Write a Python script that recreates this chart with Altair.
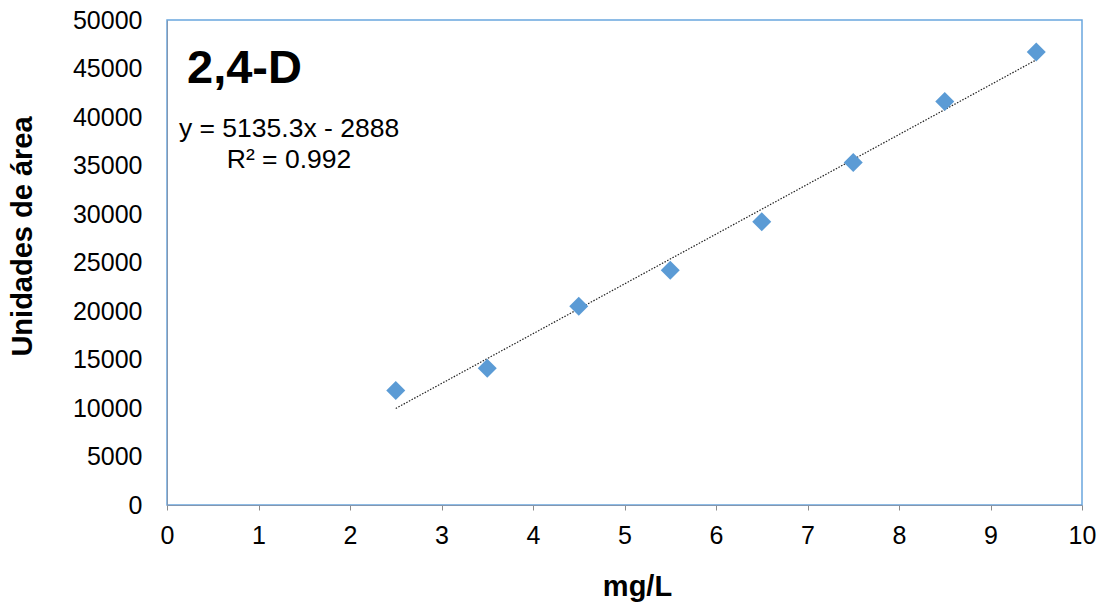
import altair as alt
import pandas as pd

# Data
x_vals = [2.5, 3.5, 4.5, 5.5, 6.5, 7.5, 8.5, 9.5]
y_vals = [11800, 14100, 20500, 24200, 29200, 35300, 41600, 46700]
x_ticks = [i * 0.5 for i in range(21)]
y_ticks = list(range(0, 50001, 5000))
title_text = "2,4-D"
eq_text = "y = 5135.3x - 2888"
r2_text = "R² = 0.992"

df = pd.DataFrame({"x": x_vals, "y": y_vals})
FONT = "Liberation Sans"

x_enc = alt.X(
    "x:Q",
    scale=alt.Scale(domain=[0, 10], nice=False),
    axis=alt.Axis(
        values=x_ticks,
        format="d",
        labelExpr="datum.value % 1 === 0 ? datum.label : ''",
        labelFlush=False,
        title="mg/L",
        grid=False,
        ticks=True,
        tickSize=5,
        tickColor="#8c8c8c",
        domainColor="#8497B0",
        labelPadding=13,
        labelFontSize=25,
        labelColor="black",
        titleFontSize=29,
        titleFontWeight="bold",
        titleColor="black",
        titleX=470,
        titleY=90,
        titleBaseline="alphabetic",
    ),
)
y_enc = alt.Y(
    "y:Q",
    scale=alt.Scale(domain=[0, 50000], nice=False),
    axis=alt.Axis(
        values=y_ticks,
        format="d",
        labelFlush=False,
        title="Unidades de área",
        grid=False,
        ticks=False,
        domainColor="#8497B0",
        labelPadding=25,
        labelFontSize=25,
        labelColor="black",
        titleFontSize=29,
        titleFontWeight="bold",
        titleColor="black",
        titleAngle=-90,
        titleX=-145,
        titleY=216,
        titleAlign="center",
        titleBaseline="middle",
    ),
)

points = alt.Chart(df).mark_point(
    shape="diamond", filled=True, size=360, color="#5B9BD5", opacity=1
).encode(x=x_enc, y=y_enc)

trend = (
    alt.Chart(df)
    .transform_regression("x", "y")
    .mark_line(color="#222222", strokeWidth=1.2, strokeDash=[1.5, 1.5])
    .encode(x="x:Q", y="y:Q")
)

t1 = alt.Chart(pd.DataFrame({"t": [title_text]})).mark_text(
    font=FONT, fontSize=47, fontWeight="bold", align="left", baseline="alphabetic", color="black"
).encode(text="t:N", x=alt.value(20), y=alt.value(63))

t2 = alt.Chart(pd.DataFrame({"t": [eq_text]})).mark_text(
    font=FONT, fontSize=26.5, align="center", baseline="alphabetic", color="black"
).encode(text="t:N", x=alt.value(122), y=alt.value(117))

t3 = alt.Chart(pd.DataFrame({"t": [r2_text]})).mark_text(
    font=FONT, fontSize=26.5, align="center", baseline="alphabetic", color="black"
).encode(text="t:N", x=alt.value(122), y=alt.value(148))

chart = (
    alt.layer(trend, points, t1, t2, t3)
    .properties(
        width=915,
        height=485,
        autosize=alt.AutoSizeParams(type="none"),
        padding={"left": 167, "top": 20, "right": 20, "bottom": 97},
        background="white",
    )
    .configure_view(stroke="#6AA6DE", strokeWidth=1.5)
    .configure_axis(labelFont=FONT, titleFont=FONT)
)

chart.save("out.html", embed_options={"renderer": "svg", "actions": False})
